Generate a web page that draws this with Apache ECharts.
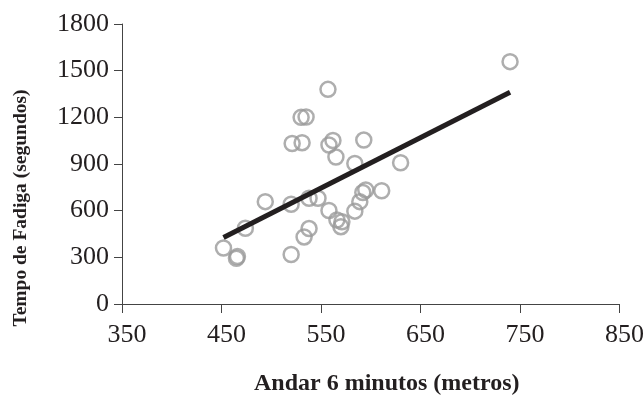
<!DOCTYPE html>
<html>
<head>
<meta charset="utf-8">
<script src="https://cdn.jsdelivr.net/npm/echarts@6/dist/echarts.min.js"></script>
<style>html,body{margin:0;padding:0;background:#fff;}#c{width:644px;height:402px;}</style>
</head>
<body>
<div id="c"></div>
<script>
// Data
var walkMeters = [740, 557, 530, 535, 521, 531, 562, 558, 565, 593, 584, 630,
                  452, 465, 466, 474, 494, 520, 520, 538, 547, 533, 538, 558,
                  566, 571, 570, 584, 589, 592, 595, 611];
var fatigueSeconds = [1558, 1380, 1200, 1202, 1032, 1037, 1051, 1022, 945, 1054, 903, 908,
                      360, 294, 305, 487, 658, 641, 318, 680, 680, 431, 485, 601,
                      540, 529, 497, 597, 658, 717, 733, 728];
var trendX = [452, 740];
var trendY = [428, 1361];
var xTicks = [350, 450, 550, 650, 750, 850];
var yTicks = [0, 300, 600, 900, 1200, 1500, 1800];
var xTitle = 'Andar 6 minutos (metros)';
var yTitle = 'Tempo de Fadiga (segundos)';

var points = walkMeters.map(function (x, i) { return [x, fatigueSeconds[i]]; });
var trend = trendX.map(function (x, i) { return [x, trendY[i]]; });

var chart = echarts.init(document.getElementById('c'), null, {renderer: 'canvas'});
var serif = '"Liberation Serif", "Times New Roman", serif';
var axisColor = '#444';
chart.setOption({
  animation: false,
  backgroundColor: '#fff',
  grid: {left: 122, right: 24.5, top: 24, bottom: 98, containLabel: false, outerBoundsMode: 'none'},
  xAxis: {
    type: 'value',
    min: xTicks[0], max: xTicks[xTicks.length - 1], interval: 100,
    name: xTitle, nameLocation: 'middle', nameGap: 68,
    nameTextStyle: {fontFamily: serif, fontWeight: 'bold', fontSize: 24, color: '#231f20',
                    padding: [0, 0, 0, 32]},
    axisLine: {show: true, lineStyle: {color: axisColor, width: 1}},
    axisTick: {show: true, length: 9, lineStyle: {color: axisColor}},
    axisLabel: {fontFamily: serif, fontSize: 26, color: '#231f20', margin: 18,
                padding: [0, 0, 0, 10],
                formatter: function (v) { return String(v); }},
    splitLine: {show: false}
  },
  yAxis: {
    type: 'value',
    min: yTicks[0], max: yTicks[yTicks.length - 1], interval: 300,
    axisLine: {show: true, lineStyle: {color: axisColor, width: 1}},
    axisTick: {show: true, length: 8, lineStyle: {color: axisColor}},
    axisLabel: {fontFamily: serif, fontSize: 26, color: '#231f20', margin: 13,
                formatter: function (v) { return String(v); }},
    splitLine: {show: false}
  },
  graphic: [{
    type: 'text', x: 21, y: 208, rotation: Math.PI / 2,
    style: {text: yTitle, fontFamily: serif, fontWeight: 'bold', fontSize: 19.5,
            fill: '#231f20', align: 'center', verticalAlign: 'middle'}
  }],
  series: [{
    type: 'scatter', data: points, symbol: 'circle', symbolSize: 15,
    itemStyle: {color: 'rgba(255,255,255,0)', borderColor: '#9a9a9a', borderWidth: 2.5},
    z: 2
  }, {
    type: 'line', data: trend, symbol: 'none',
    lineStyle: {color: '#231f20', width: 5}, z: 3
  }]
});
</script>
</body>
</html>
